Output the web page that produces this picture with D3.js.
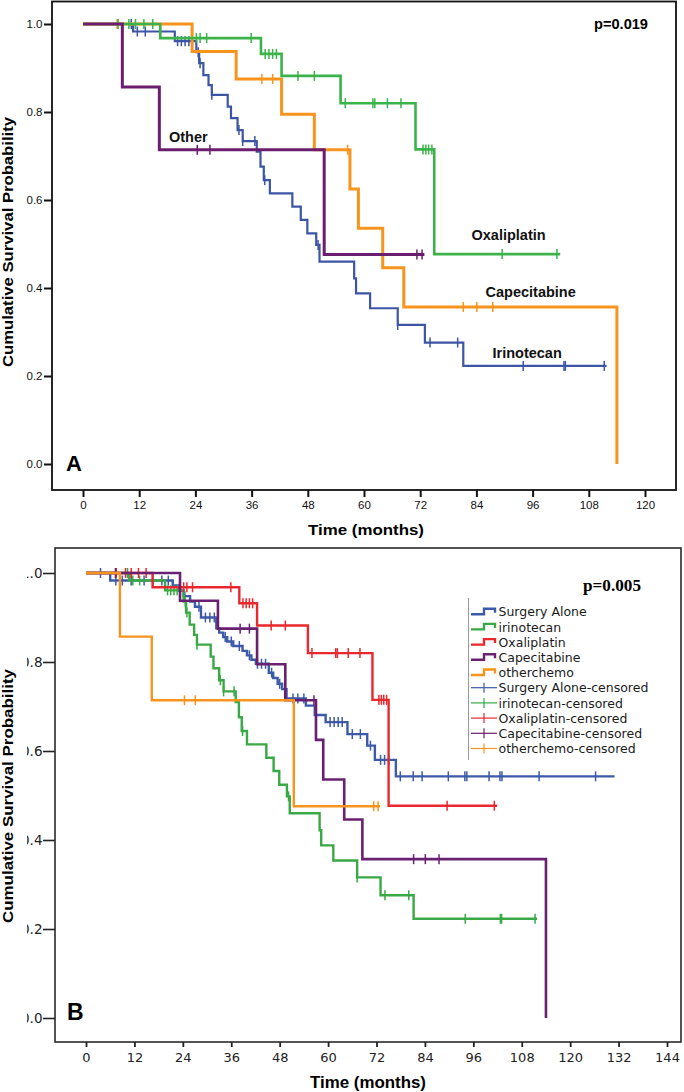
<!DOCTYPE html>
<html><head><meta charset="utf-8">
<script src="https://cdn.jsdelivr.net/npm/d3@7"></script>
<style>
html,body{margin:0;padding:0;background:#fff;}
svg{display:block;}
</style></head>
<body>
<svg id="chart" width="684" height="1092"></svg>
<script>
// ---------- DATA ----------
const xTicksA = [0,12,24,36,48,60,72,84,96,108,120];
const xTicksB = [0,12,24,36,48,60,72,84,96,108,120,132,144];
const yTicks = [0,0.2,0.4,0.6,0.8,1.0];

// Kaplan-Meier steps: [time (months), survival after event]
const irinotecanSteps = [[0,1],[10.7,0.983],[19.6,0.961],[24.2,0.936],[24.8,0.911],[25.7,0.884],[26.8,0.861],[27.5,0.839],[30.9,0.812],[31.6,0.786],[33.0,0.759],[34.1,0.734],[37.1,0.710],[37.9,0.676],[38.6,0.645],[39.9,0.615],[44.7,0.585],[46.5,0.555],[47.9,0.524],[49.8,0.498],[50.5,0.460],[57.9,0.422],[58.3,0.388],[61.3,0.354],[67.2,0.316],[73.0,0.276],[81.2,0.223]];
const irinotecanCensored = [10.3,11.6,13.3,20.2,21.0,21.8,22.6,24.6,25.0,27.5,33.3,34.1,36.7,38.8,50.2,67.2,74.1,80.0,94.0,102.7,103.0,111.3];
const irinotecanEnd = 111.8;

const oxaliplatinSteps = [[0,1],[16.5,0.968],[38.0,0.932],[42.4,0.882],[55.0,0.820],[71.0,0.715],[75.0,0.477]];
const oxaliplatinCensored = [7.5,9.8,11.2,13.0,14.9,24.2,25.0,26.4,35.9,38.9,39.7,40.5,41.3,45.9,49.4,56.0,61.9,62.3,65.0,67.9,72.6,73.2,73.8,74.5,89.5,101.2];
const oxaliplatinEnd = 101.9;

const capecitabineSteps = [[0,1],[23.3,0.9375],[32.7,0.875],[42.4,0.795],[49.4,0.714],[57.0,0.625],[58.8,0.536],[64.0,0.446],[68.5,0.357],[114.0,0]];
const capecitabineCensored = [7.3,38.2,40.5,56.5,81.2,84.1,87.5];
const capecitabineEnd = 114.0;

const otherSteps = [[0,1],[8.4,0.857],[16.3,0.714],[51.5,0.476]];
const otherCensored = [24.4,27.1,71.3,72.4];
const otherEnd = 72.9;

const surgerySteps = [[0,1],[6.0,0.983],[21.5,0.972],[23.1,0.960],[24.2,0.948],[25.8,0.936],[27.0,0.924],[28.5,0.900],[32.3,0.876],[33.0,0.866],[34.0,0.856],[35.0,0.846],[36.5,0.836],[38.8,0.825],[39.9,0.815],[41.0,0.805],[42.1,0.796],[45.3,0.776],[46.4,0.764],[47.5,0.751],[48.6,0.739],[49.7,0.718],[54.5,0.702],[56.7,0.681],[59.4,0.665],[64.8,0.638],[69.7,0.612],[71.6,0.580],[76.8,0.543]];
const surgeryCensored = [3.6,7.4,9.0,11.2,14.4,16.6,18.8,20.4,24.5,28.0,29.6,30.7,31.8,34.5,36.0,38.0,40.5,42.5,43.5,44.5,46.0,48.0,51.3,52.5,54.0,57.0,60.5,61.5,62.5,63.5,66.0,68.0,70.5,73.0,74.0,75.0,77.9,81.1,83.3,89.8,93.9,94.4,99.9,102.6,103.1,112.3,126.3];
const surgeryEnd = 131.0;

const labelsA = ["Other","Oxaliplatin","Capecitabine","Irinotecan"];
const legendNamesB = ["Surgery Alone","irinotecan","Oxaliplatin","Capecitabine","otherchemo"];
const pValueA = "p=0.019";
const pValueB = "p=0.005";

// ---------- DRAW ----------
const svg = d3.select("#chart");
const SANS = "'Liberation Sans', Arial, sans-serif";

function survAt(steps, t){
  let s = steps[0][1];
  for (const [tt, ss] of steps){ if (tt <= t + 1e-9) s = ss; }
  return s;
}
function drawCurve(g, x, y, steps, censored, end, color, width){
  const pts = steps.slice();
  const last = steps[steps.length-1];
  if (end > last[0]) pts.push([end, last[1]]);
  const line = d3.line().x(d=>x(d[0])).y(d=>y(d[1])).curve(d3.curveStepAfter);
  g.append("path").attr("d", line(pts)).attr("fill","none")
    .attr("stroke", color).attr("stroke-width", width).attr("stroke-linejoin","miter");
  g.selectAll(null).data(censored).enter().append("line")
    .attr("x1", d=>x(d)).attr("x2", d=>x(d))
    .attr("y1", d=>y(survAt(steps,d))-5).attr("y2", d=>y(survAt(steps,d))+5)
    .attr("stroke", color).attr("stroke-width", 1.5);
}

// ===== Panel A =====
const xA = d3.scaleLinear().domain([0,120]).range([83,645]);
const yA = d3.scaleLinear().domain([0,1]).range([464,24]);
const gA = svg.append("g");

const cA = {blue:"#3c55a5", orange:"#f7941d", green:"#3bb34a", purple:"#6b1d6f"};
drawCurve(gA, xA, yA, irinotecanSteps, irinotecanCensored, irinotecanEnd, cA.blue, 2.2);
drawCurve(gA, xA, yA, capecitabineSteps, capecitabineCensored, capecitabineEnd, cA.orange, 3);
drawCurve(gA, xA, yA, oxaliplatinSteps, oxaliplatinCensored, oxaliplatinEnd, cA.green, 2.6);
drawCurve(gA, xA, yA, otherSteps, otherCensored, otherEnd, cA.purple, 3);

gA.append("rect").attr("x",52).attr("y",1.5).attr("width",624).attr("height",488.5)
  .attr("fill","none").attr("stroke","#111").attr("stroke-width",1.8);

const axLA = gA.append("g").attr("transform","translate(52,0)")
  .call(d3.axisLeft(yA).tickValues(yTicks).tickFormat(d3.format(".1f")).tickSize(8).tickPadding(1.5));
axLA.select(".domain").remove();
axLA.selectAll("line").attr("stroke","#111").attr("stroke-width",2);
axLA.selectAll("text").attr("font-family",SANS).attr("font-size",11.5).attr("fill","#111");

const axBA = gA.append("g").attr("transform","translate(0,490)")
  .call(d3.axisBottom(xA).tickValues(xTicksA).tickSize(7).tickPadding(4));
axBA.select(".domain").remove();
axBA.selectAll("line").attr("stroke","#111").attr("stroke-width",2);
axBA.selectAll("text").attr("font-family",SANS).attr("font-size",11.5).attr("fill","#111");

gA.append("text").attr("x",366).attr("y",535).attr("text-anchor","middle")
  .attr("font-family",SANS).attr("font-weight","bold").attr("font-size",15.5)
  .attr("textLength",116).attr("lengthAdjust","spacingAndGlyphs").text("Time (months)");
gA.append("text").attr("transform","translate(12.5,242) rotate(-90)").attr("text-anchor","middle")
  .attr("font-family",SANS).attr("font-weight","bold").attr("font-size",14)
  .attr("textLength",250).attr("lengthAdjust","spacingAndGlyphs").text("Cumulative Survival Probability");
gA.append("text").attr("x",621).attr("y",29).attr("text-anchor","middle")
  .attr("font-family",SANS).attr("font-weight","bold").attr("font-size",14)
  .attr("textLength",54).attr("lengthAdjust","spacingAndGlyphs").text(pValueA);
gA.append("text").attr("x",66).attr("y",471)
  .attr("font-family",SANS).attr("font-weight","bold").attr("font-size",22).text("A");

const labelPosA = [[169,142],[471.5,240],[485.5,297],[492.5,358]];
labelsA.forEach((t,i)=>{
  gA.append("text").attr("x",labelPosA[i][0]).attr("y",labelPosA[i][1])
    .attr("font-family",SANS).attr("font-weight","bold").attr("font-size",14.5)
    .attr("fill","#111").text(t);
});

// ===== Panel B =====
const xB = d3.scaleLinear().domain([0,144]).range([86,667]);
const yB = d3.scaleLinear().domain([0,1]).range([1018,573]);
const gB = svg.append("g");
const cB = {blue:"#3d5aa9", green:"#39a845", red:"#e8282c", purple:"#6a2070", orange:"#f7941d"};

drawCurve(gB, xB, yB, surgerySteps, surgeryCensored, surgeryEnd, cB.blue, 2.4);
drawCurve(gB, xB, yB, irinotecanSteps, irinotecanCensored, irinotecanEnd, cB.green, 2.4);
drawCurve(gB, xB, yB, oxaliplatinSteps, oxaliplatinCensored, oxaliplatinEnd, cB.red, 2.4);
drawCurve(gB, xB, yB, capecitabineSteps, capecitabineCensored, capecitabineEnd, cB.purple, 2.6);
drawCurve(gB, xB, yB, otherSteps, otherCensored, otherEnd, cB.orange, 2.4);

gB.append("rect").attr("x",55).attr("y",548).attr("width",626).attr("height",494)
  .attr("fill","none").attr("stroke","#2a2a2a").attr("stroke-width",1.6);

// clip for the partially cut-off y labels of panel B (global coordinates)
svg.append("defs").append("clipPath").attr("id","clipB")
  .append("rect").attr("x",27).attr("y",540).attr("width",38).attr("height",500);

const wrapLB = gB.append("g").attr("clip-path","url(#clipB)");
const axLB = wrapLB.append("g").attr("transform","translate(55,0)")
  .call(d3.axisLeft(yB).tickValues(yTicks).tickFormat(d3.format(".1f")).tickSize(12).tickPadding(0.5));
axLB.select(".domain").remove();
axLB.selectAll("line").attr("stroke","#222").attr("stroke-width",1.6);
axLB.selectAll("text").attr("font-family","'DejaVu Sans', sans-serif").attr("font-size",13.5).attr("fill","#222");

const axBB = gB.append("g").attr("transform","translate(0,1042)")
  .call(d3.axisBottom(xB).tickValues(xTicksB).tickSize(5).tickPadding(5.5));
axBB.select(".domain").remove();
axBB.selectAll("line").attr("stroke","#222").attr("stroke-width",1.8);
axBB.selectAll("text").attr("font-family","'DejaVu Sans', sans-serif").attr("font-size",13).attr("fill","#222");

gB.append("text").attr("x",368).attr("y",1088).attr("text-anchor","middle")
  .attr("font-family",SANS).attr("font-weight","bold").attr("font-size",16)
  .attr("textLength",116).attr("lengthAdjust","spacingAndGlyphs").text("Time (months)");
gB.append("text").attr("transform","translate(12.5,796) rotate(-90)").attr("text-anchor","middle")
  .attr("font-family",SANS).attr("font-weight","bold").attr("font-size",14)
  .attr("textLength",254).attr("lengthAdjust","spacingAndGlyphs").text("Cumulative Survival Probability");
gB.append("text").attr("x",612).attr("y",591).attr("text-anchor","middle")
  .attr("font-family","'Liberation Serif', 'Times New Roman', serif").attr("font-weight","bold").attr("font-size",17)
  .attr("textLength",58).attr("lengthAdjust","spacingAndGlyphs").text(pValueB);
gB.append("text").attr("x",67).attr("y",1020)
  .attr("font-family",SANS).attr("font-weight","bold").attr("font-size",23).text("B");

// legend
const legColors = [cB.blue,cB.green,cB.red,cB.purple,cB.orange];
const leg = gB.append("g");
leg.append("line").attr("x1",468.5).attr("x2",468.5).attr("y1",598).attr("y2",760)
  .attr("stroke","#999").attr("stroke-width",1);
const legY0 = 611.7, legDy = 15.2;
legendNamesB.forEach((n,i)=>{
  const yy = legY0 + i*legDy;
  leg.append("path").attr("d",`M471,${yy+2.5}H484V${yy-3}H495V${yy+1}`)
    .attr("fill","none").attr("stroke",legColors[i]).attr("stroke-width",2.4);
  leg.append("text").attr("x",498.5).attr("y",yy+4.6)
    .attr("font-family","'DejaVu Sans', sans-serif").attr("font-size",12.5).attr("fill","#1a1a1a").text(n);
});
legendNamesB.forEach((n,i)=>{
  const yy = legY0 + (i+5)*legDy;
  leg.append("line").attr("x1",471).attr("x2",497).attr("y1",yy).attr("y2",yy)
    .attr("stroke",legColors[i]).attr("stroke-width",1.2);
  leg.append("line").attr("x1",484).attr("x2",484).attr("y1",yy-5).attr("y2",yy+5)
    .attr("stroke",legColors[i]).attr("stroke-width",1.2);
  leg.append("text").attr("x",498.5).attr("y",yy+4.6)
    .attr("font-family","'DejaVu Sans', sans-serif").attr("font-size",12.5).attr("fill","#1a1a1a").text(n+"-censored");
});
</script>
</body></html>
